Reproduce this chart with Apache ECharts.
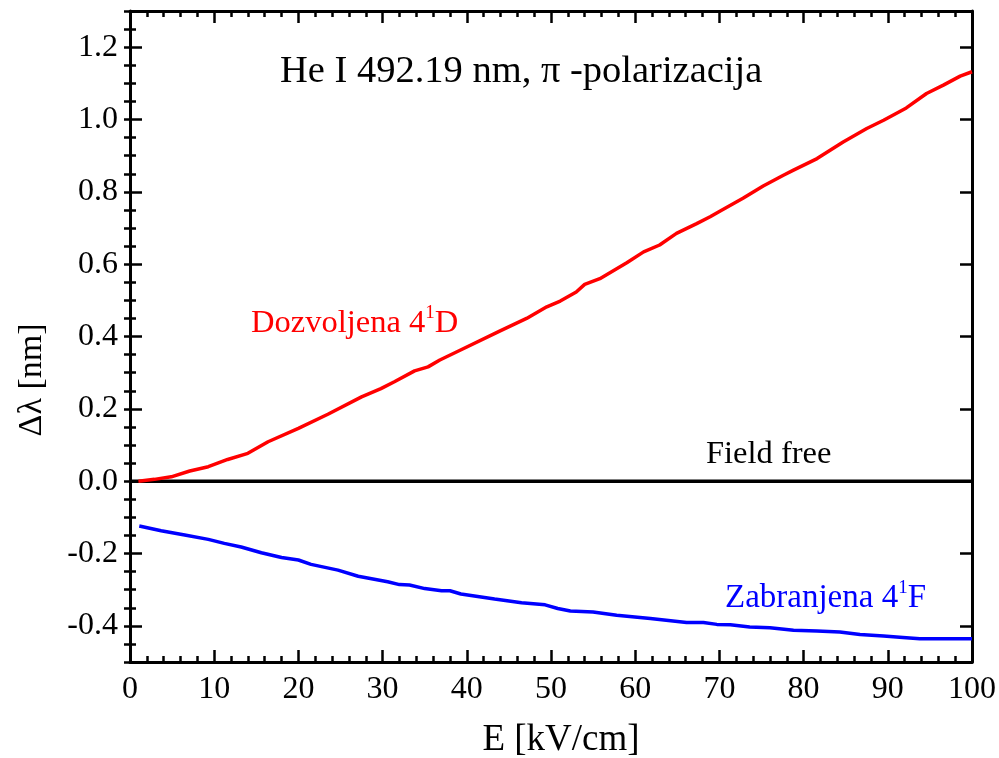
<!DOCTYPE html>
<html>
<head>
<meta charset="utf-8">
<title>He I 492.19 nm</title>
<script src="https://cdn.jsdelivr.net/npm/echarts@6.0.0/dist/echarts.min.js"></script>
<style>
  html, body { margin: 0; padding: 0; background: #fff; }
  #chart { width: 999px; height: 758px; }
</style>
</head>
<body>
<div id="chart"></div>
<script>
// Allowed component 4^1D (red)
const allowedE = [1, 2.9, 4.9, 7.1, 9.3, 11.6, 14.0, 16.4, 20.0, 23.5, 27.5, 29.8, 31.4, 33.8, 35.4,
  36.8, 39.2, 43.9, 47.1, 49.5, 51.1, 53.0, 54.0, 55.8, 59.0, 61.0, 62.9, 64.9, 67.3, 68.9, 70.1,
  72.8, 75.2, 77.6, 78.8, 81.6, 84.7, 87.5, 89.5, 92.2, 94.6, 96.6, 98.6, 100];
const allowedShift = [0, 0.005, 0.012, 0.028, 0.040, 0.060, 0.077, 0.109, 0.146, 0.185, 0.233, 0.256, 0.275, 0.305, 0.316,
  0.335, 0.362, 0.415, 0.450, 0.482, 0.498, 0.523, 0.544, 0.560, 0.604, 0.634, 0.653, 0.685, 0.712, 0.731, 0.747,
  0.782, 0.816, 0.846, 0.860, 0.892, 0.938, 0.975, 0.998, 1.032, 1.072, 1.095, 1.120, 1.132];

// Forbidden component 4^1F (blue)
const forbiddenE = [1.1, 3.7, 6.5, 9.3, 11.2, 13.2, 15.6, 18.0, 20.0, 21.5, 24.7, 27.1, 30.6, 32.0, 33.2,
  35.0, 37.0, 38.0, 39.3, 43.3, 46.5, 49.3, 50.8, 52.3, 55.0, 57.8, 61.8, 66.1, 68.1, 69.7, 71.3,
  73.6, 76.0, 78.8, 81.6, 84.3, 86.7, 89.5, 91.8, 93.8, 100];
const forbiddenShift = [-0.124, -0.137, -0.149, -0.161, -0.172, -0.182, -0.198, -0.211, -0.218, -0.230, -0.246, -0.263, -0.278, -0.286, -0.287,
  -0.297, -0.303, -0.303, -0.312, -0.326, -0.336, -0.342, -0.352, -0.359, -0.362, -0.371, -0.380, -0.391, -0.391, -0.396, -0.397,
  -0.403, -0.405, -0.412, -0.414, -0.417, -0.424, -0.428, -0.432, -0.436, -0.436];

// Field-free reference line
const fieldFreeE = [0, 100];
const fieldFreeShift = [0, 0];

// Axis ranges and tick labels
const xRange = [0, 100];
const yRange = [-0.5, 1.3];
const yTickValues = [-0.4, -0.2, 0.0, 0.2, 0.4, 0.6, 0.8, 1.0, 1.2];

const FONT = '"Liberation Serif", "DejaVu Serif", serif';
const zip = (xs, ys) => xs.map((x, i) => [x, ys[i]]);

const chart = echarts.init(document.getElementById('chart'), null, { renderer: 'canvas' });

const majorTick = { show: true, inside: true, length: 12, lineStyle: { color: '#000', width: 2.5 } };
const minorTick = { show: true, inside: true, length: 6, lineStyle: { color: '#000', width: 2.5 } };
const frameLine = { show: true, onZero: false, lineStyle: { color: '#000', width: 3 } };

function xAxisDef(pos, labels) {
  return {
    type: 'value', position: pos, min: xRange[0], max: xRange[1], interval: 10,
    axisLine: frameLine,
    axisTick: majorTick,
    minorTick: Object.assign({ splitNumber: 5 }, minorTick),
    splitLine: { show: false }, minorSplitLine: { show: false },
    axisLabel: labels ? { show: true, color: '#000', fontFamily: FONT, fontSize: 32, margin: 12 } : { show: false }
  };
}

function yMajorDef(pos, labels) {
  return {
    type: 'value', position: pos, min: yRange[0], max: yRange[1],
    axisLine: frameLine,
    axisTick: Object.assign({ customValues: yTickValues }, majorTick),
    splitLine: { show: false },
    axisLabel: labels ? {
      show: true, customValues: yTickValues, color: '#000', fontFamily: FONT, fontSize: 32, margin: 12,
      formatter: v => Number(v).toFixed(1)
    } : { show: false }
  };
}

function yMinorDef(pos) {
  return {
    type: 'value', position: pos, min: yRange[0], max: yRange[1], interval: 0.05,
    axisLine: { show: false },
    axisTick: minorTick,
    splitLine: { show: false },
    axisLabel: { show: false }
  };
}

const option = {
  backgroundColor: '#fff',
  animation: false,
  grid: { left: 130, right: 27, top: 11, bottom: 96, containLabel: false },
  xAxis: [xAxisDef('bottom', true), xAxisDef('top', false)],
  yAxis: [yMajorDef('left', true), yMajorDef('right', false), yMinorDef('left'), yMinorDef('right')],
  series: [
    {
      name: 'Field free', type: 'line', xAxisIndex: 0, yAxisIndex: 0,
      data: zip(fieldFreeE, fieldFreeShift), showSymbol: false, symbol: 'none',
      lineStyle: { color: '#000', width: 3.5 }, z: 3
    },
    {
      name: 'Dozvoljena 4¹D', type: 'line', xAxisIndex: 0, yAxisIndex: 0,
      data: zip(allowedE, allowedShift), showSymbol: false, symbol: 'none',
      lineStyle: { color: '#ff0000', width: 3.5 }, z: 4
    },
    {
      name: 'Zabranjena 4¹F', type: 'line', xAxisIndex: 0, yAxisIndex: 0,
      data: zip(forbiddenE, forbiddenShift), showSymbol: false, symbol: 'none',
      lineStyle: { color: '#0000ff', width: 3.5 }, z: 4
    }
  ],
  graphic: [
    {
      type: 'text', left: 280, top: 52,
      style: { text: 'He I 492.19 nm, π -polarizacija', font: '38.5px ' + FONT, fill: '#000' }
    },
    {
      type: 'text', left: 251, top: 304,
      style: {
        text: '{n|Dozvoljena 4}{s|1}{n|D}',
        rich: {
          n: { fontFamily: FONT, fontSize: 32.5, lineHeight: 36, fill: '#ff0000', color: '#ff0000', verticalAlign: 'bottom' },
          s: { fontFamily: FONT, fontSize: 19, lineHeight: 36, fill: '#ff0000', color: '#ff0000', verticalAlign: 'top' }
        }
      }
    },
    {
      type: 'text', left: 706, top: 438,
      style: { text: 'Field free', font: '32.5px ' + FONT, fill: '#000' }
    },
    {
      type: 'text', left: 725, top: 579,
      style: {
        text: '{n|Zabranjena 4}{s|1}{n|F}',
        rich: {
          n: { fontFamily: FONT, fontSize: 33, lineHeight: 36, fill: '#0000ff', color: '#0000ff', verticalAlign: 'bottom' },
          s: { fontFamily: FONT, fontSize: 19, lineHeight: 36, fill: '#0000ff', color: '#0000ff', verticalAlign: 'top' }
        }
      }
    },
    {
      type: 'text', x: 561, y: 740,
      style: { text: 'E [kV/cm]', font: '37px ' + FONT, fill: '#000', align: 'center', verticalAlign: 'middle' }
    },
    {
      type: 'text', x: 32, y: 380, rotation: Math.PI / 2,
      style: { text: 'Δλ [nm]', font: '34px ' + FONT, fill: '#000', align: 'center', verticalAlign: 'middle' }
    }
  ]
};

chart.setOption(option);
</script>
</body>
</html>
